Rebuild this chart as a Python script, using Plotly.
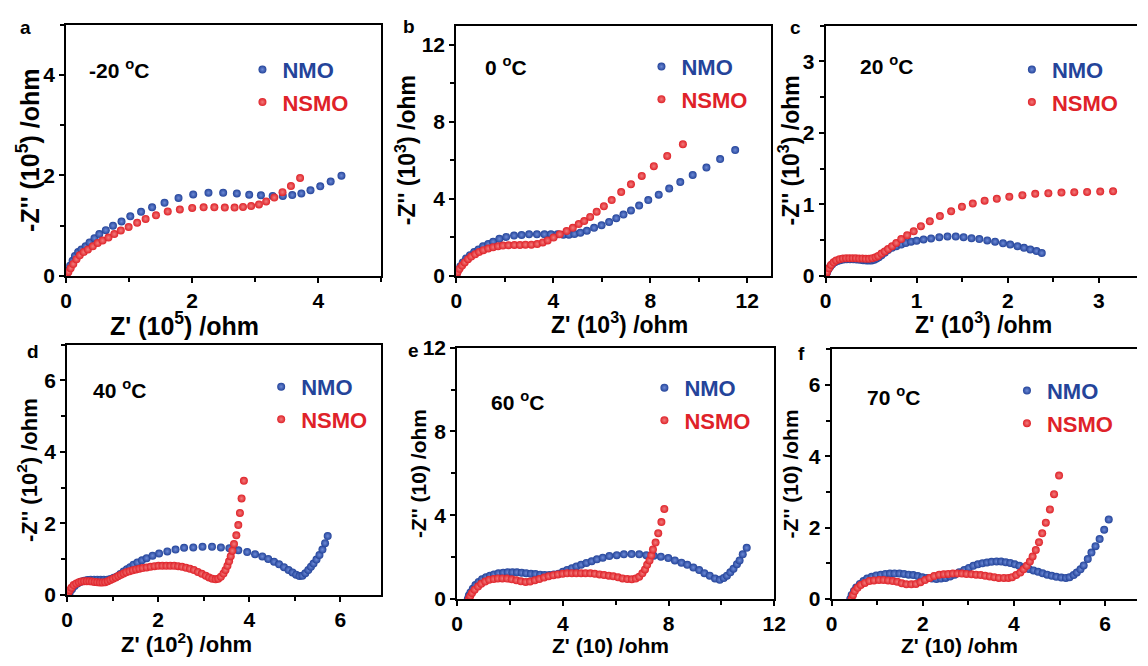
import plotly.graph_objects as go

# ---------------- data: Nyquist plots (Z', -Z'') ----------------
# panel a, -20 C  (units 1e5 ohm)
a_nmo_x = [0.005, 0.036, 0.062, 0.103, 0.140, 0.191, 0.243, 0.310, 0.372, 0.450, 0.527, 0.630, 0.744, 0.879,
           1.018, 1.189, 1.364, 1.561, 1.783, 2.016, 2.258, 2.491, 2.708, 2.904, 3.090, 3.276, 3.437, 3.587,
           3.731, 3.876, 4.031, 4.196, 4.367]
a_nmo_y = [0.005, 0.109, 0.205, 0.301, 0.397, 0.474, 0.526, 0.590, 0.667, 0.750, 0.833, 0.910, 1.000, 1.083,
           1.186, 1.276, 1.365, 1.455, 1.551, 1.622, 1.654, 1.654, 1.641, 1.615, 1.603, 1.590, 1.590, 1.609,
           1.641, 1.705, 1.782, 1.878, 1.994]
a_nsmo_x = [0.005, 0.036, 0.072, 0.114, 0.165, 0.217, 0.279, 0.346, 0.424, 0.501, 0.579, 0.672, 0.765, 0.868,
            0.992, 1.127, 1.261, 1.426, 1.612, 1.804, 2.000, 2.181, 2.351, 2.517, 2.672, 2.806, 2.935, 3.059,
            3.173, 3.302, 3.432, 3.566, 3.711]
a_nsmo_y = [0.005, 0.077, 0.154, 0.237, 0.333, 0.410, 0.474, 0.526, 0.590, 0.654, 0.705, 0.763, 0.833, 0.904,
            0.974, 1.058, 1.135, 1.205, 1.282, 1.321, 1.353, 1.365, 1.365, 1.359, 1.359, 1.372, 1.391, 1.423,
            1.481, 1.558, 1.667, 1.788, 1.949]

# panel b, 0 C  (units 1e3 ohm)
b_nmo_x = [0.01, 0.067, 0.162, 0.269, 0.404, 0.566, 0.741, 0.916, 1.104, 1.320, 1.522, 1.778, 2.061, 2.384,
           2.694, 3.003, 3.327, 3.636, 3.906, 4.175, 4.418, 4.646, 4.875, 5.118, 5.387, 5.684, 5.993, 6.303,
           6.599, 6.896, 7.205, 7.542, 7.919, 8.350, 8.781, 9.239, 9.751, 10.317, 10.882, 11.502]
b_nmo_y = [0.01, 0.285, 0.486, 0.704, 0.905, 1.072, 1.240, 1.374, 1.541, 1.658, 1.776, 1.926, 2.027, 2.094,
           2.127, 2.161, 2.161, 2.161, 2.161, 2.161, 2.144, 2.144, 2.178, 2.245, 2.345, 2.496, 2.630, 2.797,
           2.998, 3.183, 3.400, 3.652, 3.936, 4.221, 4.539, 4.874, 5.243, 5.628, 6.064, 6.533]
b_nsmo_x = [0.01, 0.054, 0.135, 0.242, 0.350, 0.485, 0.620, 0.781, 0.943, 1.118, 1.320, 1.522, 1.724, 1.926,
            2.155, 2.397, 2.626, 2.855, 3.098, 3.340, 3.569, 3.771, 4.013, 4.269, 4.552, 4.808, 5.051, 5.279,
            5.522, 5.791, 6.088, 6.411, 6.801, 7.205, 7.650, 8.148, 8.700, 9.347]
b_nsmo_y = [0.01, 0.201, 0.369, 0.536, 0.704, 0.871, 1.005, 1.122, 1.240, 1.340, 1.424, 1.491, 1.541, 1.575,
            1.591, 1.608, 1.608, 1.625, 1.625, 1.658, 1.742, 1.843, 1.993, 2.161, 2.328, 2.496, 2.697, 2.848,
            3.065, 3.333, 3.618, 3.936, 4.355, 4.757, 5.193, 5.695, 6.231, 6.834]

# panel c, 20 C  (units 1e3 ohm)
c_nmo_x = [0.003, 0.014, 0.029, 0.051, 0.072, 0.101, 0.130, 0.159, 0.195, 0.231, 0.267, 0.303, 0.339, 0.375,
           0.411, 0.447, 0.476, 0.505, 0.534, 0.559, 0.584, 0.613, 0.649, 0.685, 0.729, 0.776, 0.830, 0.880,
           0.938, 0.999, 1.075, 1.158, 1.248, 1.338, 1.429, 1.515, 1.602, 1.688, 1.775, 1.861, 1.948, 2.027,
           2.107, 2.179, 2.248, 2.316, 2.374]
c_nmo_y = [0.003, 0.045, 0.090, 0.131, 0.163, 0.190, 0.208, 0.221, 0.230, 0.235, 0.235, 0.235, 0.230, 0.226,
           0.221, 0.217, 0.217, 0.217, 0.226, 0.244, 0.262, 0.289, 0.325, 0.361, 0.393, 0.416, 0.438, 0.461,
           0.479, 0.492, 0.510, 0.524, 0.542, 0.551, 0.551, 0.542, 0.528, 0.515, 0.497, 0.479, 0.456, 0.438,
           0.416, 0.393, 0.370, 0.348, 0.321]
c_nsmo_x = [0.003, 0.014, 0.036, 0.058, 0.087, 0.115, 0.152, 0.188, 0.224, 0.260, 0.296, 0.332, 0.368, 0.404,
            0.440, 0.476, 0.512, 0.548, 0.577, 0.613, 0.649, 0.685, 0.729, 0.776, 0.830, 0.895, 0.967, 1.046,
            1.144, 1.255, 1.378, 1.497, 1.616, 1.746, 1.880, 2.017, 2.161, 2.302, 2.446, 2.590, 2.731, 2.872,
            3.016, 3.157]
c_nsmo_y = [0.003, 0.054, 0.108, 0.154, 0.190, 0.217, 0.235, 0.244, 0.248, 0.248, 0.248, 0.248, 0.244, 0.244,
            0.239, 0.239, 0.248, 0.262, 0.280, 0.312, 0.343, 0.375, 0.416, 0.461, 0.515, 0.569, 0.623, 0.696,
            0.763, 0.836, 0.903, 0.967, 1.012, 1.052, 1.079, 1.107, 1.129, 1.147, 1.156, 1.165, 1.170, 1.174,
            1.179, 1.183]

# panel d, 40 C  (units 1e2 ohm)
d_nmo_x = [0.02, 0.058, 0.108, 0.166, 0.231, 0.303, 0.375, 0.447, 0.519, 0.592, 0.664, 0.736, 0.808, 0.880,
           0.952, 1.025, 1.097, 1.169, 1.241, 1.313, 1.385, 1.457, 1.544, 1.645, 1.746, 1.876, 2.020, 2.201,
           2.381, 2.569, 2.771, 2.973, 3.182, 3.377, 3.564, 3.759, 3.954, 4.127, 4.286, 4.416, 4.545, 4.654,
           4.762, 4.863, 4.949, 5.029, 5.101, 5.166, 5.231, 5.296, 5.354, 5.411, 5.476, 5.541, 5.606, 5.664,
           5.722]
d_nmo_y = [0.0, 0.07, 0.16, 0.25, 0.32, 0.37, 0.40, 0.42, 0.43, 0.43, 0.43, 0.43, 0.43, 0.43,
           0.45, 0.48, 0.52, 0.59, 0.66, 0.72, 0.78, 0.85, 0.91, 0.97, 1.03, 1.10, 1.16, 1.22,
           1.27, 1.32, 1.33, 1.35, 1.35, 1.33, 1.31, 1.25, 1.20, 1.14, 1.08, 1.01, 0.93, 0.86,
           0.78, 0.70, 0.63, 0.57, 0.53, 0.54, 0.61, 0.70, 0.79, 0.88, 0.99, 1.12, 1.27, 1.45,
           1.65]
d_nsmo_x = [0.02, 0.029, 0.058, 0.094, 0.144, 0.202, 0.260, 0.317, 0.375, 0.433, 0.491, 0.548, 0.606, 0.664,
            0.722, 0.779, 0.837, 0.895, 0.952, 1.010, 1.068, 1.126, 1.183, 1.241, 1.299, 1.371, 1.443, 1.515,
            1.587, 1.659, 1.746, 1.833, 1.919, 2.006, 2.092, 2.179, 2.266, 2.352, 2.439, 2.525, 2.612, 2.698,
            2.785, 2.872, 2.958, 3.045, 3.117, 3.189, 3.261, 3.319, 3.377, 3.434, 3.478, 3.521, 3.557, 3.593,
            3.629, 3.665, 3.716, 3.759, 3.795, 3.831, 3.882]
d_nsmo_y = [0.0, 0.072, 0.135, 0.206, 0.278, 0.323, 0.359, 0.377, 0.386, 0.386, 0.386, 0.377, 0.368, 0.359,
            0.350, 0.350, 0.359, 0.386, 0.422, 0.457, 0.493, 0.529, 0.565, 0.601, 0.637, 0.664, 0.691, 0.717,
            0.735, 0.753, 0.771, 0.789, 0.807, 0.816, 0.816, 0.816, 0.816, 0.816, 0.807, 0.789, 0.762, 0.735,
            0.700, 0.646, 0.592, 0.538, 0.493, 0.457, 0.439, 0.457, 0.511, 0.601, 0.700, 0.816, 0.942, 1.085,
            1.238, 1.426, 1.668, 1.955, 2.296, 2.700, 3.193]

# panel e, 60 C  (units 10 ohm)
e_nmo_x = [0.40, 0.44, 0.50, 0.59, 0.69, 0.81, 0.94, 1.09, 1.24, 1.39, 1.56, 1.74, 1.91, 2.09, 2.26, 2.44,
           2.61, 2.79, 2.96, 3.14, 3.31, 3.49, 3.66, 3.84, 4.00, 4.16, 4.34, 4.51, 4.69, 4.89, 5.09, 5.29,
           5.51, 5.76, 6.04, 6.31, 6.60, 6.89, 7.16, 7.44, 7.71, 7.99, 8.24, 8.49, 8.71, 8.94, 9.16, 9.36,
           9.56, 9.76, 9.94, 10.09, 10.21, 10.34, 10.46, 10.59, 10.69, 10.81, 10.96]
e_nmo_y = [0.00, 0.16, 0.31, 0.48, 0.66, 0.81, 0.94, 1.03, 1.11, 1.17, 1.22, 1.25, 1.27, 1.27, 1.27, 1.25,
           1.23, 1.20, 1.19, 1.16, 1.14, 1.14, 1.17, 1.20, 1.30, 1.38, 1.47, 1.55, 1.63, 1.72, 1.80, 1.89,
           1.97, 2.05, 2.09, 2.13, 2.14, 2.13, 2.09, 2.06, 2.02, 1.95, 1.84, 1.73, 1.63, 1.50, 1.38, 1.23,
           1.11, 0.98, 0.91, 1.00, 1.11, 1.27, 1.44, 1.66, 1.84, 2.13, 2.44]
e_nsmo_x = [0.44, 0.49, 0.56, 0.66, 0.79, 0.91, 1.06, 1.21, 1.38, 1.54, 1.71, 1.89, 2.06, 2.24, 2.41, 2.59,
            2.76, 2.94, 3.11, 3.29, 3.46, 3.64, 3.81, 3.99, 4.16, 4.34, 4.51, 4.69, 4.86, 5.04, 5.21, 5.39,
            5.56, 5.74, 5.91, 6.09, 6.26, 6.44, 6.61, 6.76, 6.89, 7.01, 7.11, 7.19, 7.28, 7.35, 7.41, 7.51,
            7.61, 7.73, 7.84]
e_nsmo_y = [0.00, 0.13, 0.28, 0.44, 0.59, 0.72, 0.83, 0.91, 0.95, 0.98, 0.98, 0.97, 0.94, 0.89, 0.84, 0.81,
            0.83, 0.89, 0.95, 1.02, 1.08, 1.13, 1.17, 1.20, 1.22, 1.23, 1.23, 1.23, 1.23, 1.22, 1.20, 1.17,
            1.14, 1.11, 1.08, 1.03, 0.98, 0.95, 0.94, 0.97, 1.06, 1.22, 1.41, 1.63, 1.84, 2.08, 2.36, 2.69,
            3.14, 3.67, 4.30]

# panel f, 70 C  (units 10 ohm)
f_nmo_x = [0.41, 0.44, 0.49, 0.54, 0.62, 0.70, 0.78, 0.88, 0.98, 1.08, 1.18, 1.28, 1.38, 1.49, 1.59, 1.69,
           1.79, 1.89, 1.99, 2.09, 2.20, 2.30, 2.40, 2.50, 2.60, 2.70, 2.80, 2.91, 3.01, 3.11, 3.21, 3.31,
           3.41, 3.51, 3.62, 3.72, 3.82, 3.92, 4.02, 4.12, 4.22, 4.33, 4.43, 4.53, 4.63, 4.73, 4.83, 4.93,
           5.04, 5.14, 5.22, 5.31, 5.38, 5.46, 5.53, 5.62, 5.70, 5.79, 5.88, 5.98, 6.08]
f_nmo_y = [0.00, 0.11, 0.22, 0.32, 0.42, 0.50, 0.57, 0.62, 0.66, 0.68, 0.70, 0.71, 0.71, 0.71, 0.70, 0.68,
           0.67, 0.64, 0.61, 0.59, 0.57, 0.56, 0.57, 0.59, 0.63, 0.68, 0.75, 0.81, 0.87, 0.93, 0.97, 1.00,
           1.02, 1.04, 1.05, 1.05, 1.03, 1.01, 0.97, 0.93, 0.88, 0.84, 0.80, 0.76, 0.72, 0.68, 0.65, 0.62,
           0.60, 0.59, 0.61, 0.67, 0.74, 0.83, 0.94, 1.12, 1.30, 1.48, 1.68, 1.94, 2.23]
f_nsmo_x = [0.44, 0.47, 0.51, 0.57, 0.64, 0.73, 0.83, 0.93, 1.04, 1.14, 1.24, 1.34, 1.44, 1.54, 1.64, 1.75,
            1.85, 1.95, 2.05, 2.15, 2.25, 2.36, 2.46, 2.56, 2.66, 2.76, 2.86, 2.96, 3.07, 3.17, 3.27, 3.37,
            3.47, 3.57, 3.67, 3.78, 3.88, 3.96, 4.05, 4.14, 4.21, 4.28, 4.35, 4.41, 4.48, 4.55, 4.62, 4.70,
            4.79, 4.88, 4.99]
f_nsmo_y = [0.00, 0.11, 0.22, 0.31, 0.39, 0.45, 0.50, 0.52, 0.53, 0.53, 0.52, 0.50, 0.48, 0.44, 0.41, 0.41,
            0.42, 0.47, 0.53, 0.59, 0.64, 0.68, 0.69, 0.70, 0.71, 0.71, 0.71, 0.70, 0.69, 0.68, 0.67, 0.65,
            0.63, 0.61, 0.59, 0.59, 0.59, 0.61, 0.67, 0.74, 0.83, 0.93, 1.05, 1.19, 1.37, 1.59, 1.84, 2.14,
            2.51, 2.94, 3.46]

series_names = ["NMO", "NSMO"]
temperatures = ["-20", "0", "20", "40", "60", "70"]
panel_letters = ["a", "b", "c", "d", "e", "f"]
unit_powers = ["10<sup>5</sup>", "10<sup>3</sup>", "10<sup>3</sup>", "10<sup>2</sup>", "10", "10"]

# ---------------- layout helpers (pixel geometry) ----------------
W, H = 1148, 666
BLUE, RED = "#24449a", "#df2229"
BLUE_HI, RED_HI = "#6d8ad6", "#f27c7c"
FONT = "Liberation Sans, Arial, sans-serif"


def px(x):
    return x / W


def py(y):
    return 1 - y / H


# plot boxes: (left, right, top, bottom) in pixels, axis ranges, major/minor steps
panels = [
    dict(box=(61, 381, 14, 274), xr=[0, 5], yr=[0, 5], xd=2, yd=2, xm=1, ym=1, full=True),
    dict(box=(457, 777, 15, 274), xr=[0, 13], yr=[0, 13], xd=4, yd=4, xm=2, ym=2, full=True),
    dict(box=(832, 1148, 15, 274), xr=[0, 3.42], yr=[0, 3.5], xd=1, yd=1, xm=0.5, ym=0.5, full=False),
    dict(box=(62, 381, 345, 604), xr=[0, 6.9], yr=[0, 7], xd=2, yd=2, xm=1, ym=1, full=True),
    dict(box=(458, 780, 348, 608), xr=[0, 12.01], yr=[0, 12.01], xd=4, yd=4, xm=2, ym=2, full=True),
    dict(box=(838, 1148, 350, 608), xr=[0, 6.7], yr=[0, 7], xd=2, yd=2, xm=1, ym=1, full=False),
]

data = [
    (a_nmo_x, a_nmo_y, a_nsmo_x, a_nsmo_y),
    (b_nmo_x, b_nmo_y, b_nsmo_x, b_nsmo_y),
    (c_nmo_x, c_nmo_y, c_nsmo_x, c_nsmo_y),
    (d_nmo_x, d_nmo_y, d_nsmo_x, d_nsmo_y),
    (e_nmo_x, e_nmo_y, e_nsmo_x, e_nsmo_y),
    (f_nmo_x, f_nmo_y, f_nsmo_x, f_nsmo_y),
]

# text placement per panel (pixels)
letter_pos = [(20, 17), (409, 16), (801, 17), (27, 352), (414, 351), (807, 354)]
temp_pos = [(82, 60), (484, 57), (865, 56), (86, 391), (490, 403), (872, 398)]
legend_pos = [(266, 58), (671, 55), (1047, 58), (285, 386), (674, 387), (1042, 390)]
xtitle_pos = [(181, 324), (623, 323), (992, 323), (183, 654), (614, 656), (968, 656)]
ytitle_pos = [(23, 144), (406, 144), (795, 144), (22, 475), (418, 478), (796, 479)]
title_size = [25, 23, 23, 22, 21, 21]

fig = go.Figure()
layout = dict(width=W, height=H, margin=dict(l=0, r=0, t=0, b=0),
              paper_bgcolor="white", plot_bgcolor="white", showlegend=True,
              font=dict(family=FONT, size=21, color="black", weight="bold"))
annotations = []

tickfont = dict(family=FONT, size=21, color="black", weight="bold")

for i, (p, (nx, ny, sx, sy)) in enumerate(zip(panels, data)):
    k = "" if i == 0 else str(i + 1)
    l, r, t, b = p["box"]
    xa = dict(domain=[px(l), px(r)], range=p["xr"], anchor="y" + k, dtick=p["xd"], tick0=0,
              showline=True, linewidth=2, linecolor="black", mirror=True,
              ticks="outside", ticklen=5, tickwidth=2, tickcolor="black",
              minor=dict(ticks="outside", ticklen=4, tickwidth=1.5, dtick=p["xm"], tickcolor="black"),
              showgrid=False, zeroline=False, tickfont=tickfont, fixedrange=True)
    ya = dict(domain=[py(b), py(t)], range=p["yr"], anchor="x" + k, dtick=p["yd"], tick0=0,
              showline=True, linewidth=2, linecolor="black", mirror=p["full"],
              ticks="outside", ticklen=5, tickwidth=2, tickcolor="black",
              minor=dict(ticks="outside", ticklen=4, tickwidth=1.5, dtick=p["ym"], tickcolor="black"),
              showgrid=False, zeroline=False, tickfont=tickfont, fixedrange=True)
    layout["xaxis" + k] = xa
    layout["yaxis" + k] = ya

    leg = "legend" + k
    for name, xs, ys, col, hi in ((series_names[0], nx, ny, BLUE, BLUE_HI),
                                  (series_names[1], sx, sy, RED, RED_HI)):
        fig.add_trace(go.Scatter(
            x=xs, y=ys, mode="markers", xaxis="x" + k, yaxis="y" + k,
            name=f"<span style='color:{col}'>{name}</span>",
            legend=leg, legendgroup=f"{i}-{name}",
            marker=dict(size=8, color=col, line=dict(width=0),
                        gradient=dict(type="radial", color=hi)),
            hoverinfo="skip"))
    lx, ly = legend_pos[i]
    layout[leg] = dict(x=px(lx - 26), y=py(ly - 19), xanchor="left", yanchor="top",
                       bgcolor="rgba(0,0,0,0)", borderwidth=0, tracegroupgap=1,
                       font=dict(family=FONT, size=22, weight="bold"))

    # panel letter, temperature tag, axis titles
    gx, gy = letter_pos[i]
    annotations.append(dict(text=panel_letters[i], x=px(gx), y=py(gy), xref="paper", yref="paper",
                            showarrow=False, xanchor="center", yanchor="middle",
                            font=dict(family=FONT, size=19, color="black", weight="bold")))
    tx, ty = temp_pos[i]
    annotations.append(dict(text=f"{temperatures[i]} <sup>o</sup>C", x=px(tx), y=py(ty),
                            xref="paper", yref="paper", showarrow=False,
                            xanchor="left", yanchor="middle",
                            font=dict(family=FONT, size=21, color="black", weight="bold")))
    xx, xy = xtitle_pos[i]
    annotations.append(dict(text=f"Z' ({unit_powers[i]}) /ohm", x=px(xx), y=py(xy),
                            xref="paper", yref="paper", showarrow=False,
                            xanchor="center", yanchor="middle",
                            font=dict(family=FONT, size=title_size[i], color="black", weight="bold")))
    yx, yy = ytitle_pos[i]
    annotations.append(dict(text=f"-Z'' ({unit_powers[i]}) /ohm", x=px(yx), y=py(yy),
                            xref="paper", yref="paper", showarrow=False, textangle=-90,
                            xanchor="center", yanchor="middle",
                            font=dict(family=FONT, size=title_size[i], color="black", weight="bold")))

layout["annotations"] = annotations
fig.update_layout(**layout)
fig.write_html("out.html")
